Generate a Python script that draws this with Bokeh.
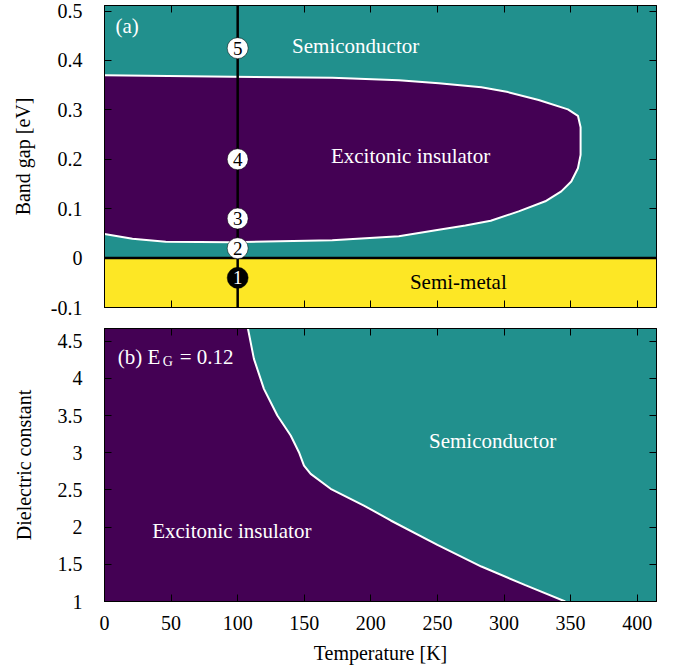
from bokeh.plotting import figure
from bokeh.layouts import column
from bokeh.models import FixedTicker, LinearAxis, Range1d
from bokeh.core.properties import value
from bokeh.embed import file_html
from bokeh.resources import INLINE

FONT = "Liberation Serif"
TEAL = "#21908d"
PURPLE = "#440154"
YELLOW = "#fde725"

# ---------------- data ----------------
T_ticks = [0, 50, 100, 150, 200, 250, 300, 350, 400]
T_tick_labels = ["0", "50", "100", "150", "200", "250", "300", "350", "400"]
Eg_ticks = [-0.1, 0, 0.1, 0.2, 0.3, 0.4, 0.5]
Eg_tick_labels = ["-0.1", "0", "0.1", "0.2", "0.3", "0.4", "0.5"]
eps_ticks = [1, 1.5, 2, 2.5, 3, 3.5, 4, 4.5]
eps_tick_labels = ["1", "1.5", "2", "2.5", "3", "3.5", "4", "4.5"]

T_min, T_max = 0, 414.5
Eg_min, Eg_max = -0.1, 0.5113
eps_min, eps_max = 1, 4.67

# panel (a): excitonic-insulator phase boundary (clockwise, from T=0 upper branch)
ei_a_T = [0, 96, 171, 221, 251, 283, 303, 326, 348, 355.5, 357.5, 357.5,
          355.5, 350.5, 343, 331, 311, 290, 271, 251, 221, 171, 96, 46, 21, 0]
ei_a_Eg = [0.370, 0.367, 0.365, 0.360, 0.354, 0.346, 0.336, 0.320, 0.301, 0.288, 0.265, 0.209,
           0.182, 0.155, 0.135, 0.115, 0.0945, 0.0757, 0.066, 0.0575, 0.044, 0.036, 0.032, 0.033, 0.039, 0.0486]

cut_T = 100
marker_Eg = [0.425, 0.2, 0.08, 0.02, -0.04]
marker_labels = ["5", "4", "3", "2", "1"]
marker_fill = ["white", "white", "white", "white", "black"]
marker_text_color = ["black", "black", "black", "black", "white"]

# panel (b): boundary at E_G = 0.12 (from top to bottom)
ei_b_T = [107.0, 107.7, 112.2, 119.7, 129.8, 139.8, 146, 149.8, 154.8, 169.8, 194.8, 214.9, 250, 283, 316, 346]
ei_b_eps = [4.72, 4.67, 4.262, 3.859, 3.5, 3.231, 3.007, 2.828, 2.716, 2.515, 2.29, 2.089, 1.76, 1.47, 1.22, 1.0]


def style_axis(ax, labels=True, standoff=22):
    ax.major_tick_in = 7
    ax.major_tick_out = 0
    ax.minor_tick_in = 0
    ax.minor_tick_out = 0
    ax.major_tick_line_color = "black"
    ax.axis_line_color = "black"
    ax.major_label_text_font = FONT
    ax.axis_label_text_font = FONT
    ax.axis_label_text_font_style = "normal"
    ax.axis_label_text_font_size = "20px"
    ax.axis_label_text_color = "black"
    ax.major_label_text_color = "black"
    if labels:
        ax.major_label_text_font_size = "20px"
        ax.major_label_standoff = standoff
    else:
        ax.major_label_text_font_size = "0px"
        ax.major_label_standoff = 0


def add_mirror_axes(p, xt, yt):
    top = LinearAxis(ticker=FixedTicker(ticks=xt))
    right = LinearAxis(ticker=FixedTicker(ticks=yt))
    style_axis(top, labels=False)
    style_axis(right, labels=False)
    p.add_layout(top, "above")
    p.add_layout(right, "right")


def txt(p, x, y, s, color="white", size="21px", align="center", baseline="middle", x_offset=0):
    p.text(x=[x], y=[y], text=[s], text_color=color, text_font=value(FONT),
           text_font_size=size, text_align=align, text_baseline=baseline, x_offset=x_offset)


# ---------------- panel (a) ----------------
pa = figure(frame_width=552, frame_height=302, output_backend="svg", toolbar_location=None,
            x_range=Range1d(T_min, T_max), y_range=Range1d(Eg_min, Eg_max),
            min_border_left=104, min_border_right=12, min_border_top=5, min_border_bottom=21,
            background_fill_color=TEAL, outline_line_color="black")
pa.grid.visible = False

pa.quad(left=[T_min - 10], right=[T_max + 10], bottom=[Eg_min - 0.1], top=[0], fill_color=YELLOW, line_color=None)
pa.patch(x=[-10] + ei_a_T + [-10], y=[ei_a_Eg[0]] + ei_a_Eg + [ei_a_Eg[-1]], fill_color=PURPLE, line_color=None)
pa.line(x=ei_a_T, y=ei_a_Eg, line_color="white", line_width=2)
pa.line(x=[T_min - 10, T_max + 10], y=[0, 0], line_color="black", line_width=2.5)
pa.line(x=[cut_T, cut_T], y=[Eg_min - 0.1, Eg_max + 0.1], line_color="black", line_width=2.5)

pa.scatter(x=[cut_T] * len(marker_Eg), y=marker_Eg, size=21, fill_color=marker_fill, line_color="black", line_width=0.5)
pa.text(x=[cut_T] * len(marker_Eg), y=marker_Eg, text=marker_labels, text_color=marker_text_color,
        text_font=value(FONT), text_font_size="19px", text_align="center", text_baseline="middle")

txt(pa, 8.2, 0.469, "(a)", align="left")
txt(pa, 188.6, 0.4285, "Semiconductor")
txt(pa, 229.8, 0.206, "Excitonic insulator")
txt(pa, 265.7, -0.049, "Semi-metal", color="black")

pa.xaxis.ticker = FixedTicker(ticks=T_ticks)
pa.yaxis.ticker = FixedTicker(ticks=Eg_ticks)
pa.yaxis.major_label_overrides = dict(zip(Eg_ticks, Eg_tick_labels))
style_axis(pa.xaxis[0], labels=False)
style_axis(pa.yaxis[0], labels=True, standoff=22)
pa.yaxis.axis_label = "Band gap [eV]"
pa.yaxis.axis_label_standoff = 14
add_mirror_axes(pa, T_ticks, Eg_ticks)

# ---------------- panel (b) ----------------
pb = figure(frame_width=552, frame_height=273, output_backend="svg", toolbar_location=None,
            x_range=Range1d(T_min, T_max), y_range=Range1d(eps_min, eps_max),
            min_border_left=104, min_border_right=12, min_border_top=0, min_border_bottom=62,
            background_fill_color=TEAL, outline_line_color="black")
pb.grid.visible = False

pb.patch(x=[-10, -10] + ei_b_T + [ei_b_T[-1]], y=[eps_min - 1, ei_b_eps[0]] + ei_b_eps + [eps_min - 1],
         fill_color=PURPLE, line_color=None)
pb.line(x=ei_b_T, y=ei_b_eps, line_color="white", line_width=2)

txt(pb, 9.9, 4.293, "(b) E", align="left", baseline="alphabetic")
txt(pb, 9.9, 4.223, "G", align="left", baseline="alphabetic", size="14px", x_offset=45)
txt(pb, 9.9, 4.293, "= 0.12", align="left", baseline="alphabetic", x_offset=62)
txt(pb, 291.4, 3.164, "Semiconductor")
txt(pb, 95.6, 1.954, "Excitonic insulator")

pb.xaxis.ticker = FixedTicker(ticks=T_ticks)
pb.xaxis.major_label_overrides = dict(zip(T_ticks, T_tick_labels))
pb.yaxis.ticker = FixedTicker(ticks=eps_ticks)
pb.yaxis.major_label_overrides = dict(zip(eps_ticks, eps_tick_labels))
style_axis(pb.xaxis[0], labels=True, standoff=14)
style_axis(pb.yaxis[0], labels=True, standoff=22)
pb.xaxis.axis_label = "Temperature [K]"
pb.xaxis.axis_label_standoff = 9
pb.yaxis.axis_label = "Dielectric constant"
pb.yaxis.axis_label_standoff = 20
add_mirror_axes(pb, T_ticks, eps_ticks)

layout = column(pa, pb)
open("out.html", "w").write(file_html(layout, INLINE))
